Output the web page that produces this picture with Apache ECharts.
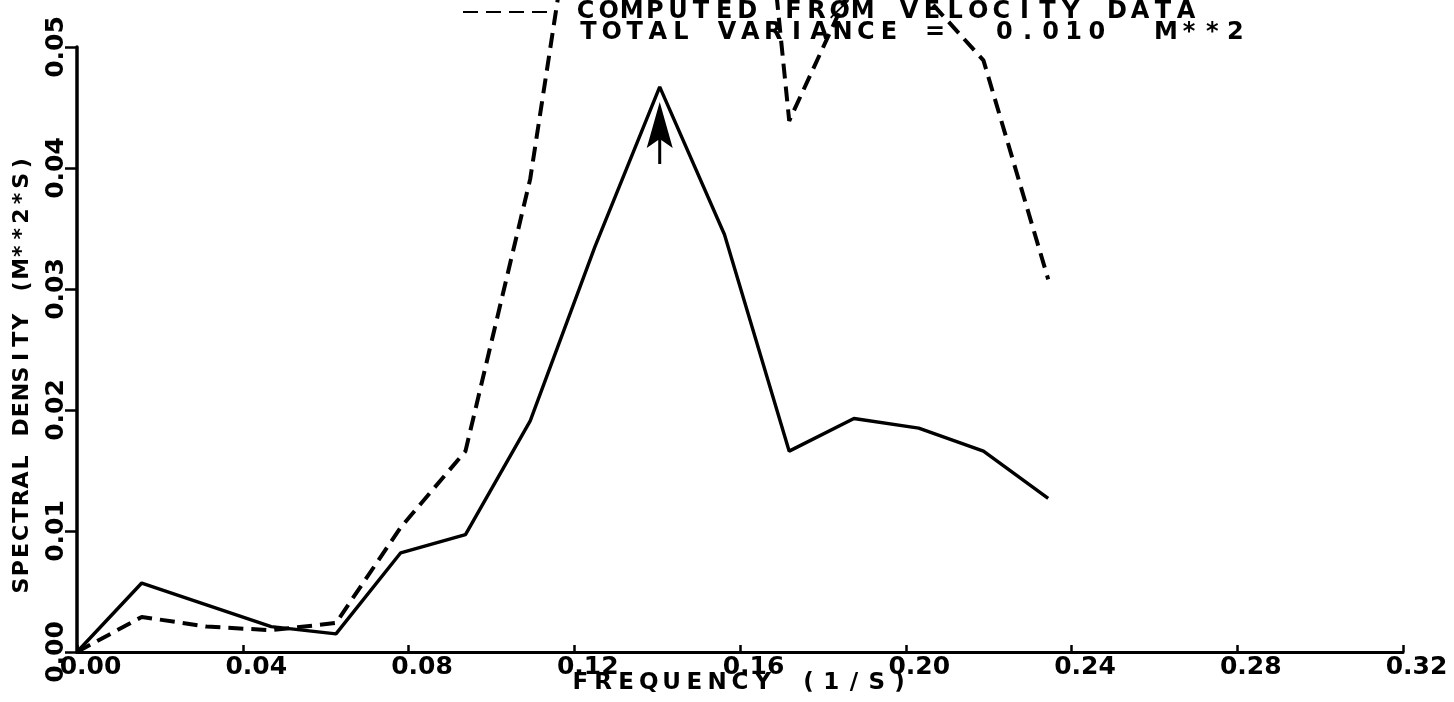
<!DOCTYPE html>
<html>
<head>
<meta charset="utf-8">
<title>Spectral density</title>
<script src="https://cdn.jsdelivr.net/npm/echarts@6.0.0/dist/echarts.min.js"></script>
<style>
  html, body { margin: 0; padding: 0; background: #fff; }
  #chart { width: 1454px; height: 702px; }
</style>
</head>
<body>
<div id="chart"></div>
<script>
  // frequency bins (1/S), k/64 for k = 0..15
  const frequencies = [0, 0.015625, 0.03125, 0.046875, 0.0625, 0.078125, 0.09375, 0.109375,
    0.125, 0.140625, 0.15625, 0.171875, 0.1875, 0.203125, 0.21875, 0.234375]
  // solid curve (M**2*S)
  const spectrum = [0, 0.0057, 0.0039, 0.0021, 0.0015, 0.0082, 0.0097, 0.0191,
    0.0335, 0.0467, 0.0345, 0.0166, 0.0193, 0.0185, 0.0166, 0.0127]
  // dashed curve, computed from velocity data (runs off the top of the plot)
  const velocitySpectrum = [0, 0.0029, 0.0021, 0.0018, 0.0024, 0.0103, 0.0166, 0.0391,
    0.074, 0.105, 0.097, 0.0439, 0.0555, 0.0548, 0.0489, 0.0308]
  const xTickLabels = ['0.00', '0.04', '0.08', '0.12', '0.16', '0.20', '0.24', '0.28', '0.32']
  const yTickLabels = ['0.00', '0.01', '0.02', '0.03', '0.04', '0.05']

  const velocityName = 'COMPUTED FRØM VELOCITY DATA'
  const varianceText = 'TOTAL VARIANCE =  0.010  M**2'

  const plotFont = 'DejaVu Sans'

  // plotter lettering: every character in a fixed width box
  function plotterText(str, key) {
    return str.split('').map(ch => '{' + key + '|' + (ch === ' ' ? '\u00a0' : ch) + '}').join('')
  }

  function letterStyle(size, advance) {
    return {
      fontFamily: plotFont,
      fontWeight: 'bold',
      fontSize: size,
      width: advance,
      align: 'center',
      lineHeight: 20,
      color: '#000'
    }
  }

  const chart = echarts.init(document.getElementById('chart'), null, {renderer: 'canvas'})

  const option = {
    animation: false,
    backgroundColor: '#fff',
    title: {
      text: plotterText(varianceText, 't'),
      left: 577,
      top: 23,
      padding: 0,
      textStyle: {
        rich: {t: letterStyle(24, 23.1)}
      }
    },
    legend: {
      data: [velocityName],
      left: 462,
      top: 0,
      padding: 0,
      itemWidth: 86,
      itemHeight: 20,
      selectedMode: false,
      itemStyle: {opacity: 0},
      formatter: name => '{g|\u00a0}' + plotterText(name, 't'),
      textStyle: {
        rich: {
          g: {width: 20},
          t: letterStyle(24, 23.1)
        }
      }
    },
    grid: {
      left: 77,
      right: 51,
      top: 47,
      bottom: 50,
      outerBoundsMode: 'none'
    },
    xAxis: {
      type: 'value',
      min: 0,
      max: 0.32,
      interval: 0.04,
      name: plotterText('FREQUENCY (1/S)', 'n'),
      nameLocation: 'middle',
      nameGap: 21,
      nameMoveOverlap: false,
      nameTextStyle: {
        rich: {n: letterStyle(23, 22.8)}
      },
      axisLine: {lineStyle: {color: '#000', width: 3}},
      axisTick: {inside: true, length: 7, lineStyle: {color: '#000', width: 2.5}},
      axisLabel: {
        formatter: (v) => xTickLabels[Math.round(v / 0.04)],
        fontFamily: plotFont,
        fontWeight: 'bold',
        fontSize: 25,
        color: '#000',
        margin: 3,
        padding: [0, 0, 0, 27]
      },
      splitLine: {show: false}
    },
    yAxis: {
      type: 'value',
      min: 0,
      max: 0.05,
      interval: 0.01,
      name: plotterText('SPECTRAL DENSITY (M**2*S)', 'n'),
      nameLocation: 'middle',
      nameGap: 45,
      nameMoveOverlap: false,
      nameTextStyle: {
        padding: [0, 50, 0, 0],
        rich: {n: letterStyle(22, 17.6)}
      },
      axisLine: {lineStyle: {color: '#000', width: 3.5}},
      axisTick: {inside: false, length: 12, lineStyle: {color: '#000', width: 2.5}},
      axisLabel: {
        rotate: 90,
        formatter: (v) => yTickLabels[Math.round(v / 0.01)],
        fontFamily: plotFont,
        fontWeight: 'bold',
        fontSize: 25,
        color: '#000',
        margin: 8
      },
      splitLine: {show: false}
    },
    series: [
      {
        name: velocityName,
        type: 'line',
        data: frequencies.map((f, i) => [f, velocitySpectrum[i]]),
        symbol: 'none',
        clip: false,
        lineStyle: {color: '#000', width: 4, type: [15, 8]},
        itemStyle: {color: '#000'}
      },
      {
        name: 'spectrum',
        type: 'line',
        data: frequencies.map((f, i) => [f, spectrum[i]]),
        symbol: 'none',
        clip: false,
        lineStyle: {color: '#000', width: 3.4},
        itemStyle: {color: '#000'},
        markPoint: {
          // arrow under the peak
          symbol: 'path://M13,0 L26,46 L14.5,38 L14.5,62 L11.5,62 L11.5,38 L0,46 Z',
          symbolSize: [26, 62],
          symbolOffset: [0, 46],
          itemStyle: {color: '#000'},
          label: {show: false},
          data: [{coord: [frequencies[9], spectrum[9]]}]
        }
      }
    ]
  }

  chart.setOption(option)
</script>
</body>
</html>
